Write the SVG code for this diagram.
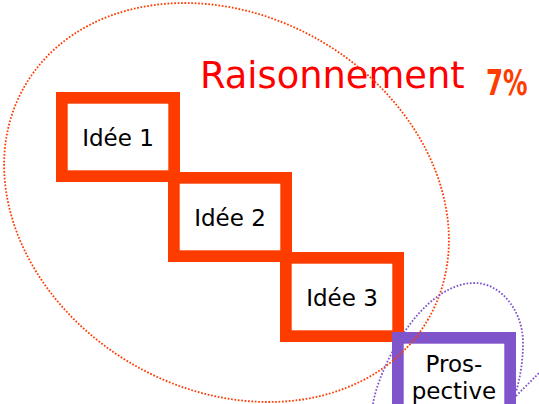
<svg xmlns="http://www.w3.org/2000/svg" width="539" height="404" viewBox="0 0 539 404">
  <style>
    .step { fill: #ffffff; stroke: #ff3c00; stroke-width: 11.7; }
    .prosp { fill: #ffffff; stroke: #8055cc; stroke-width: 11.7; }
    .label { font-family: "DejaVu Sans", sans-serif; font-size: 23px; fill: #000000; text-anchor: middle; }
    .dot-red { fill: none; stroke: #ff3c00; stroke-width: 1.8; stroke-dasharray: 1.7 1.7; }
    .dot-purple { fill: none; stroke: #8055cc; stroke-width: 1.8; stroke-dasharray: 1.7 1.7; }
  </style>
  <rect width="539" height="404" fill="#ffffff"/>

  <!-- staircase of ideas -->
  <g id="idee1">
    <rect class="step" x="61.85" y="97.85" width="112.3" height="78.3"/>
    <text class="label" x="118" y="146">Idée 1</text>
  </g>
  <g id="idee2">
    <rect class="step" x="173.85" y="177.85" width="112.3" height="78.3"/>
    <text class="label" x="230" y="226">Idée 2</text>
  </g>
  <g id="idee3">
    <rect class="step" x="285.85" y="257.85" width="112.3" height="78.3"/>
    <text class="label" x="342" y="306">Idée 3</text>
  </g>
  <g id="prospective">
    <rect class="prosp" x="397.85" y="337.85" width="112.3" height="78.3"/>
    <text class="label" x="454" y="372">Pros-</text>
    <text class="label" x="454" y="399">pective</text>
  </g>

  <!-- titles -->
  <g id="titre">
    <text x="200" y="88" font-family="DejaVu Sans, sans-serif" font-size="36.8" fill="#ff0000">Raisonnement</text>
    <text transform="translate(486 95) scale(0.7 1)" font-family="DejaVu Sans, sans-serif" font-size="35" font-weight="bold" fill="#ff3c00">7%</text>
  </g>

  <!-- dotted outlines -->
  <g id="connectors">
    <ellipse class="dot-red" cx="226.5" cy="202.5" rx="233" ry="187" transform="rotate(30 226.5 202.5)"/>
    <path class="dot-purple" d="M373,404 C378,370 420,283 475,283 C500,283 523,310 523,343 C523,362 520,378 516,392"/>
    <path class="dot-purple" d="M516,396 L539,373"/>
  </g>
</svg>
